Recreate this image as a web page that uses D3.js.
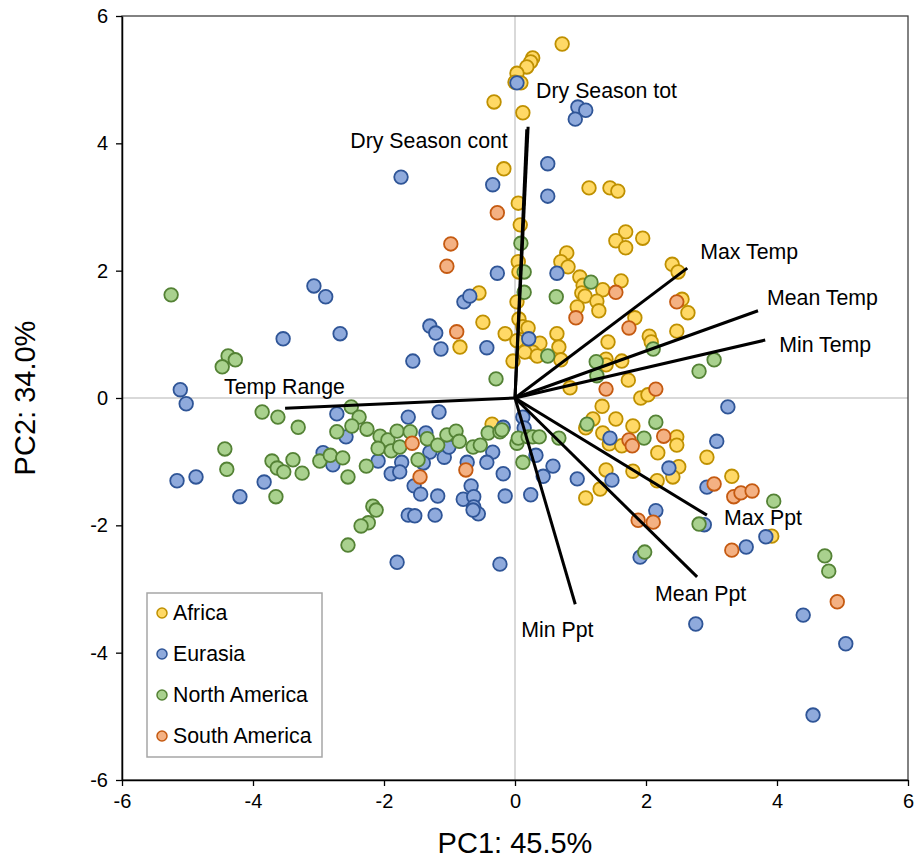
<!DOCTYPE html>
<html>
<head>
<meta charset="utf-8">
<script src="https://cdn.jsdelivr.net/npm/d3@7"></script>
<style>
  html, body { margin: 0; padding: 0; background: #fff; }
  svg { display: block; font-family: "Liberation Sans", Arial, sans-serif; }
</style>
</head>
<body>
<svg id="chart" width="919" height="863"></svg>
<script>
// PCA scores (PC1, PC2) per region
const africa = [
  [0.72,5.56],[0.27,5.34],[0.24,5.28],[0.18,5.20],[0.03,5.10],[0.00,4.96],[0.09,4.95],[-0.32,4.65],
  [0.12,4.48],[-0.17,3.60],[0.05,3.06],[0.08,2.72],[0.05,2.14],[0.06,1.98],[1.13,3.30],[1.45,3.30],
  [1.57,3.25],[1.69,2.61],[1.95,2.51],[1.54,2.47],[1.69,2.36],[0.79,2.28],[0.70,2.14],[0.81,2.06],
  [0.99,1.90],[1.04,1.77],[1.02,1.65],[1.07,1.60],[1.34,1.70],[1.62,1.84],[1.25,1.52],[1.28,1.37],
  [0.95,1.43],[0.03,1.51],[0.06,1.24],[0.12,1.12],[0.20,1.10],[-0.15,1.01],[0.03,0.90],[0.38,0.86],
  [0.27,0.72],[0.15,0.72],[0.34,0.66],[0.64,1.01],[0.67,0.80],[0.70,0.60],[-0.03,0.58],[2.40,2.10],
  [2.49,1.98],[2.55,1.55],[2.64,1.34],[1.83,1.26],[1.42,0.88],[2.05,0.97],[2.08,0.88],[2.47,1.05],
  [1.39,0.61],[1.39,0.52],[1.63,0.58],[1.73,0.28],[0.84,0.16],[1.92,0.00],[2.03,0.05],[1.33,-0.13],
  [1.19,-0.33],[1.08,-0.47],[1.54,-0.33],[1.80,-0.44],[1.34,-0.55],[1.44,-0.72],[1.63,-0.75],[2.47,-0.61],
  [2.47,-0.74],[2.18,-0.86],[2.50,-1.08],[2.41,-1.24],[2.17,-1.30],[1.80,-1.15],[1.39,-1.13],[1.30,-1.43],
  [1.08,-1.57],[2.93,-0.93],[3.31,-1.23],[3.92,-2.17],[-0.55,1.65],[-0.49,1.19],[-0.84,0.80],[-0.35,-0.41]
];
const eurasia = [
  [0.03,4.95],[0.96,4.57],[1.08,4.52],[0.92,4.38],[0.50,3.68],[0.50,3.17],[-0.34,3.35],[-1.74,3.47],
  [-0.27,1.96],[0.64,1.96],[-3.07,1.76],[-2.89,1.59],[-3.54,0.93],[-0.78,1.51],[-0.69,1.60],[-1.30,1.13],
  [-1.21,1.02],[-1.13,0.77],[-0.43,0.79],[-2.67,1.01],[-1.56,0.58],[0.21,0.93],[-5.11,0.13],[-5.02,-0.09],
  [-5.16,-1.30],[-4.87,-1.24],[-4.20,-1.55],[-3.83,-1.32],[-2.93,-0.86],[-2.72,-0.25],[-1.63,-0.30],[-1.16,-0.22],
  [-2.58,-0.61],[-1.36,-0.55],[-1.30,-0.85],[-1.08,-0.93],[-1.01,-0.77],[-1.40,-1.02],[-0.34,-0.85],[-0.43,-1.01],
  [-0.18,-0.46],[-2.78,-1.05],[-2.09,-0.99],[-1.73,-1.01],[-1.89,-1.19],[-1.76,-1.16],[-1.54,-1.38],[-1.44,-1.51],
  [-1.18,-1.54],[-0.73,-1.01],[-0.67,-1.38],[-0.79,-1.59],[-0.63,-1.55],[-0.63,-1.71],[-0.56,-1.82],[-0.64,-1.76],
  [-0.18,-1.19],[-0.15,-1.54],[-1.63,-1.84],[-1.53,-1.85],[-1.22,-1.84],[-1.80,-2.58],[-0.23,-2.61],[0.12,-0.30],
  [0.14,-0.47],[0.32,-0.90],[0.58,-1.07],[0.43,-1.23],[0.24,-1.52],[0.95,-1.27],[1.48,-1.29],[1.45,-0.63],
  [2.35,-1.10],[2.15,-1.77],[1.91,-2.50],[3.25,-0.14],[3.08,-0.68],[2.93,-1.40],[2.89,-1.99],[3.83,-2.18],
  [3.53,-2.34],[2.76,-3.55],[4.40,-3.41],[5.05,-3.86],[4.55,-4.98]
];
const northAmerica = [
  [0.09,2.43],[0.14,1.98],[0.14,1.66],[0.63,1.59],[1.16,1.82],[0.50,0.66],[-0.29,0.30],[2.11,0.77],
  [1.24,0.57],[1.25,0.35],[2.81,0.42],[3.04,0.60],[-5.25,1.62],[-4.38,0.66],[-4.27,0.60],[-4.47,0.49],
  [-3.86,-0.22],[-3.62,-0.30],[-3.31,-0.46],[-4.43,-0.80],[-4.40,-1.12],[-3.65,-1.55],[-3.71,-0.99],[-3.63,-1.10],
  [-3.53,-1.16],[-3.39,-0.97],[-3.25,-1.18],[-2.98,-0.99],[-2.82,-0.90],[-2.50,-0.14],[-2.38,-0.30],[-2.49,-0.44],
  [-2.72,-0.53],[-2.26,-0.49],[-2.06,-0.60],[-1.94,-0.66],[-1.80,-0.52],[-1.60,-0.53],[-2.09,-0.79],[-1.89,-0.83],
  [-1.76,-0.77],[-1.34,-0.64],[-1.18,-0.74],[-1.04,-0.58],[-0.90,-0.52],[-0.85,-0.68],[-1.48,-0.97],[-0.64,-0.77],
  [-0.53,-0.74],[-0.41,-0.55],[-0.23,-0.53],[0.03,-0.71],[0.05,-0.63],[0.20,-0.61],[0.27,-0.61],[0.37,-0.61],
  [0.67,-0.63],[0.12,-1.01],[-2.63,-0.94],[-2.27,-1.07],[-2.55,-1.24],[-2.17,-1.70],[-2.12,-1.76],[-2.24,-1.96],
  [-2.35,-2.01],[-2.55,-2.31],[1.10,-0.41],[2.15,-0.38],[1.97,-0.63],[1.98,-2.42],[2.81,-1.98],[3.95,-1.62],
  [4.73,-2.48],[4.79,-2.72],[-0.20,-0.50]
];
const southAmerica = [
  [-0.27,2.91],[-0.98,2.42],[-1.04,2.07],[-0.89,1.04],[1.54,1.66],[0.93,1.26],[2.47,1.51],[1.74,1.10],
  [1.39,0.14],[2.15,0.14],[1.74,-0.66],[1.79,-0.75],[2.27,-0.60],[-1.57,-0.71],[-1.45,-1.24],[-0.75,-1.13],
  [1.88,-1.92],[2.11,-1.95],[3.04,-1.35],[3.34,-1.55],[3.45,-1.49],[3.62,-1.46],[3.31,-2.39],[4.92,-3.20]
];

// Variable loadings (scaled to the score axes)
const loadingNames = ["Dry Season tot","Dry Season cont","Max Temp","Mean Temp","Min Temp","Temp Range","Max Ppt","Mean Ppt","Min Ppt"];
const loadingPC1 = [0.20, 0.18, 2.63, 3.71, 3.82, -3.51, 2.93, 2.78, 0.92];
const loadingPC2 = [4.26, 4.22, 2.04, 1.37, 0.91, -0.16, -1.84, -2.81, -3.24];

const xTicks = [-6,-4,-2,0,2,4,6];
const yTicks = [-6,-4,-2,0,2,4,6];
const seriesNames = ["Africa","Eurasia","North America","South America"];

const seriesStyle = {
  "Africa":        { fill: "#FFD966", stroke: "#BF9000" },
  "Eurasia":       { fill: "#8FAADC", stroke: "#2F5597" },
  "North America": { fill: "#A9D18E", stroke: "#548235" },
  "South America": { fill: "#F4B183", stroke: "#C55A11" }
};
const seriesData = { "Africa": africa, "Eurasia": eurasia, "North America": northAmerica, "South America": southAmerica };

// label placement relative to each arrow tip: [dx, dy, anchor]
const labelOffset = {
  "Dry Season tot":  [8, -36, "start"],
  "Dry Season cont": [-19, 12, "end"],
  "Max Temp":        [13, -16, "start"],
  "Mean Temp":       [9, -13, "start"],
  "Min Temp":        [14, 5, "start"],
  "Temp Range":      [-61, -21, "start"],
  "Max Ppt":         [17, 3, "start"],
  "Mean Ppt":        [-42, 17, "start"],
  "Min Ppt":         [-54, 26, "start"]
};

const svg = d3.select("#chart");
const plot = { left: 122, right: 908, top: 16, bottom: 780 };

const x = d3.scaleLinear().domain([-6, 6]).range([plot.left, plot.right]);
const y = d3.scaleLinear().domain([-6, 6]).range([plot.bottom, plot.top]);

// zero reference lines
svg.append("line").attr("x1", x(0)).attr("x2", x(0)).attr("y1", plot.top).attr("y2", plot.bottom)
  .attr("stroke", "#d9d9d9").attr("stroke-width", 2);
svg.append("line").attr("x1", plot.left).attr("x2", plot.right).attr("y1", y(0)).attr("y2", y(0))
  .attr("stroke", "#d9d9d9").attr("stroke-width", 2);

// plot-area frame
svg.append("rect").attr("x", plot.left).attr("y", plot.top)
  .attr("width", plot.right - plot.left).attr("height", plot.bottom - plot.top)
  .attr("fill", "none").attr("stroke", "#404040").attr("stroke-width", 1.3);

// axes (plain hyphen for negative tick labels)
const fmt = d => String(d);
const xAxis = d3.axisBottom(x).tickValues(xTicks).tickFormat(fmt).tickSizeInner(6).tickSizeOuter(0).tickPadding(8);
const yAxis = d3.axisLeft(y).tickValues(yTicks).tickFormat(fmt).tickSizeInner(6).tickSizeOuter(0).tickPadding(8);

const gx = svg.append("g").attr("transform", `translate(0,${plot.bottom})`).call(xAxis);
const gy = svg.append("g").attr("transform", `translate(${plot.left},0)`).call(yAxis);
[gx, gy].forEach(g => {
  g.select(".domain").attr("stroke", "#000").attr("stroke-width", 1.5);
  g.selectAll(".tick line").attr("stroke", "#000").attr("stroke-width", 1.3);
  g.selectAll(".tick text").attr("fill", "#000").style("font-size", "20px")
    .style("font-family", "'Liberation Sans', Arial, sans-serif");
});

// score points, series drawn in order
seriesNames.forEach(name => {
  const st = seriesStyle[name];
  svg.append("g").selectAll("circle").data(seriesData[name]).join("circle")
    .attr("cx", d => x(d[0])).attr("cy", d => y(d[1])).attr("r", 6.8)
    .attr("fill", st.fill).attr("stroke", st.stroke).attr("stroke-width", 1.8);
});

// loading vectors
const loadings = loadingNames.map((n, i) => ({ name: n, pc1: loadingPC1[i], pc2: loadingPC2[i] }));
svg.append("g").selectAll("line").data(loadings).join("line")
  .attr("x1", x(0)).attr("y1", y(0))
  .attr("x2", d => x(d.pc1)).attr("y2", d => y(d.pc2))
  .attr("stroke", "#000").attr("stroke-width", 3);

svg.append("g").selectAll("text").data(loadings).join("text")
  .attr("x", d => x(d.pc1) + labelOffset[d.name][0])
  .attr("y", d => y(d.pc2) + labelOffset[d.name][1])
  .attr("text-anchor", d => labelOffset[d.name][2])
  .attr("dominant-baseline", "central")
  .style("font-size", "21.3px").attr("fill", "#000")
  .text(d => d.name);

// axis titles
svg.append("text").attr("x", x(0)).attr("y", 843).attr("text-anchor", "middle")
  .attr("dominant-baseline", "central").style("font-size", "29px").text("PC1: 45.5%");
svg.append("text").attr("transform", `translate(25,${y(0)}) rotate(-90)`).attr("text-anchor", "middle")
  .attr("dominant-baseline", "central").style("font-size", "29px").text("PC2: 34.0%");

// legend
const legend = svg.append("g");
legend.append("rect").attr("x", 147).attr("y", 593).attr("width", 175).attr("height", 164)
  .attr("fill", "#fff").attr("stroke", "#a6a6a6").attr("stroke-width", 1.5);
seriesNames.forEach((name, i) => {
  const cy = 613 + i * 41;
  legend.append("circle").attr("cx", 162).attr("cy", cy).attr("r", 5)
    .attr("fill", seriesStyle[name].fill).attr("stroke", seriesStyle[name].stroke).attr("stroke-width", 1.5);
  legend.append("text").attr("x", 173).attr("y", cy).attr("dominant-baseline", "central")
    .style("font-size", "21.3px").text(name);
});
</script>
</body>
</html>
